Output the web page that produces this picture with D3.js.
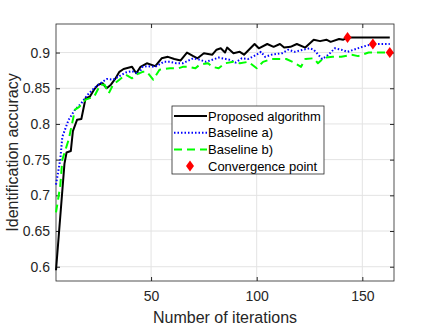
<!DOCTYPE html>
<html>
<head>
<meta charset="utf-8">
<script src="https://cdn.jsdelivr.net/npm/d3@7"></script>
<style>
  body { margin: 0; background: #fff; }
  svg { display: block; font-family: "Liberation Sans", Arial, sans-serif; }
</style>
</head>
<body>
<svg id="chart" width="436" height="327"></svg>
<script>
// values
let xTicks = [50, 100, 150]
let yTicks = [0.6, 0.65, 0.7, 0.75, 0.8, 0.85, 0.9]

let propIter = [5, 9, 10, 12, 13, 15, 17, 19, 21, 23, 25, 27, 29, 31, 33, 35, 37, 41, 43, 45, 48, 52, 55, 58, 61, 64, 67, 70, 72, 75, 79, 81, 83, 85, 86, 89, 92, 94, 99, 101, 105, 108, 111, 113, 116, 119, 123, 127, 130, 133, 135, 139, 141, 143, 163]
let propAcc = [0.595, 0.744, 0.760, 0.762, 0.790, 0.806, 0.807, 0.836, 0.838, 0.848, 0.855, 0.857, 0.850, 0.855, 0.863, 0.873, 0.877, 0.880, 0.871, 0.880, 0.885, 0.881, 0.892, 0.894, 0.891, 0.889, 0.900, 0.895, 0.892, 0.899, 0.897, 0.904, 0.906, 0.900, 0.907, 0.899, 0.901, 0.897, 0.912, 0.906, 0.912, 0.908, 0.912, 0.907, 0.908, 0.912, 0.907, 0.918, 0.916, 0.918, 0.915, 0.919, 0.918, 0.921, 0.921]

let baseAIter = [5, 7, 8, 11, 14, 17, 20, 23, 26, 29, 32, 35, 38, 41, 44, 46, 48, 52, 56, 59, 62, 65, 70, 73, 76, 79, 82, 87, 90, 93, 96, 100, 102, 104, 107, 112, 115, 118, 122, 125, 127, 131, 134, 137, 140, 143, 146, 150, 155, 163]
let baseAAcc = [0.715, 0.750, 0.782, 0.806, 0.820, 0.829, 0.841, 0.850, 0.857, 0.863, 0.862, 0.867, 0.872, 0.874, 0.870, 0.880, 0.881, 0.880, 0.887, 0.887, 0.885, 0.885, 0.892, 0.890, 0.887, 0.890, 0.893, 0.890, 0.886, 0.892, 0.891, 0.897, 0.901, 0.894, 0.897, 0.899, 0.904, 0.901, 0.904, 0.906, 0.904, 0.891, 0.897, 0.906, 0.904, 0.901, 0.904, 0.908, 0.912, 0.912]

let baseBIter = [5, 7, 8, 11, 14, 16, 19, 23, 26, 28, 30, 32, 35, 38, 41, 43, 46, 48, 51, 54, 59, 63, 65, 68, 71, 73, 77, 79, 82, 85, 89, 92, 96, 100, 103, 107, 114, 117, 121, 123, 127, 129, 132, 136, 140, 145, 148, 153, 163]
let baseBAcc = [0.676, 0.713, 0.750, 0.778, 0.820, 0.824, 0.834, 0.838, 0.855, 0.855, 0.843, 0.855, 0.862, 0.869, 0.864, 0.869, 0.873, 0.873, 0.862, 0.876, 0.878, 0.878, 0.880, 0.880, 0.878, 0.883, 0.885, 0.880, 0.878, 0.885, 0.887, 0.885, 0.887, 0.878, 0.887, 0.891, 0.891, 0.887, 0.880, 0.891, 0.892, 0.885, 0.893, 0.894, 0.894, 0.897, 0.895, 0.900, 0.900]

let convIter = [143, 155, 163]
let convAcc = [0.921, 0.912, 0.900]

let svg = d3.select("#chart")
let plotL = 56, plotR = 394, plotT = 24, plotB = 281
let axisColor = "#262626"

let x = d3.scaleLinear().domain([5, 165]).range([plotL, plotR])
let y = d3.scaleLinear().domain([0.58, 0.94]).range([plotB, plotT])

// grid
svg.append("g").selectAll("line").data(xTicks).enter().append("line")
   .attr("x1", d => x(d)).attr("x2", d => x(d))
   .attr("y1", plotT).attr("y2", plotB)
   .attr("stroke", "#e3e3e3").attr("stroke-width", 1)
svg.append("g").selectAll("line").data(yTicks).enter().append("line")
   .attr("x1", plotL).attr("x2", plotR)
   .attr("y1", d => y(d)).attr("y2", d => y(d))
   .attr("stroke", "#e3e3e3").attr("stroke-width", 1)

// axes (ticks inside, box on)
let styleAxis = (g) => {
    g.select(".domain").remove()
    g.selectAll("line").attr("stroke", axisColor)
    g.selectAll("text").attr("fill", axisColor).style("font-size", "14px")
}
svg.append("g").attr("transform", `translate(0,${plotB})`)
   .call(d3.axisBottom(x).tickValues(xTicks).tickSizeInner(-4).tickSizeOuter(0).tickPadding(10).tickFormat(d3.format("d")))
   .call(styleAxis)
svg.append("g").attr("transform", `translate(0,${plotT})`)
   .call(d3.axisTop(x).tickValues(xTicks).tickSizeInner(-4).tickSizeOuter(0).tickFormat(""))
   .call(styleAxis)
svg.append("g").attr("transform", `translate(${plotL},0)`)
   .call(d3.axisLeft(y).tickValues(yTicks).tickSizeInner(-4).tickSizeOuter(0).tickPadding(6).tickFormat(d => String(+d.toFixed(2))))
   .call(styleAxis)
svg.append("g").attr("transform", `translate(${plotR},0)`)
   .call(d3.axisRight(y).tickValues(yTicks).tickSizeInner(-4).tickSizeOuter(0).tickFormat(""))
   .call(styleAxis)

svg.append("rect")
   .attr("x", plotL).attr("y", plotT)
   .attr("width", plotR - plotL).attr("height", plotB - plotT)
   .attr("fill", "none").attr("stroke", axisColor).attr("stroke-width", 0.8)

// lines
let line = d3.line().x(d => x(d[0])).y(d => y(d[1]))
let series = [
    {name: "Proposed algorithm", iter: propIter, acc: propAcc, color: "#000000", dash: null, width: 2},
    {name: "Baseline a)", iter: baseAIter, acc: baseAAcc, color: "#0000ff", dash: "1.5,2", width: 2},
    {name: "Baseline b)", iter: baseBIter, acc: baseBAcc, color: "#00ff00", dash: "8,5", width: 2}
]

svg.append("g").selectAll("path").data(series).enter().append("path")
   .attr("d", s => line(d3.zip(s.iter, s.acc)))
   .attr("fill", "none")
   .attr("stroke", s => s.color)
   .attr("stroke-width", s => s.width)
   .attr("stroke-dasharray", s => s.dash)
   .attr("stroke-linejoin", "round")

let diamond = "M0,-5.5L4,0L0,5.5L-4,0Z"
svg.append("g").selectAll("path").data(d3.zip(convIter, convAcc)).enter().append("path")
   .attr("d", diamond)
   .attr("transform", d => `translate(${x(d[0])},${y(d[1])})`)
   .attr("fill", "#ff0000")

// axis labels
svg.append("text")
   .attr("x", (plotL + plotR) / 2).attr("y", 322.5)
   .attr("text-anchor", "middle")
   .attr("fill", axisColor)
   .style("font-size", "16px")
   .text("Number of iterations")
svg.append("text")
   .attr("transform", `translate(17.5,${(plotT + plotB) / 2}) rotate(-90)`)
   .attr("text-anchor", "middle")
   .attr("fill", axisColor)
   .style("font-size", "16px")
   .text("Identification accuracy")

// legend
let legend = svg.append("g").attr("transform", "translate(172,106)")
legend.append("rect")
      .attr("width", 152).attr("height", 68)
      .attr("fill", "#fff").attr("stroke", axisColor).attr("stroke-width", 0.8)
let rowY = (i) => 10 + i * 16.7
let items = legend.selectAll("g").data(series).enter().append("g")
items.append("line")
     .attr("x1", 2).attr("x2", 35)
     .attr("y1", (d, i) => rowY(i)).attr("y2", (d, i) => rowY(i))
     .attr("stroke", d => d.color).attr("stroke-width", d => d.width)
     .attr("stroke-dasharray", d => d.dash)
items.append("text")
     .attr("x", 36).attr("y", (d, i) => rowY(i) + 4.5)
     .attr("fill", "#000")
     .style("font-size", "13px")
     .text(d => d.name)
legend.append("path")
      .attr("d", diamond)
      .attr("transform", `translate(18,${rowY(3)})`)
      .attr("fill", "#ff0000")
legend.append("text")
      .attr("x", 36).attr("y", rowY(3) + 4.5)
      .attr("fill", "#000")
      .style("font-size", "13px")
      .text("Convergence point")
</script>
</body>
</html>
